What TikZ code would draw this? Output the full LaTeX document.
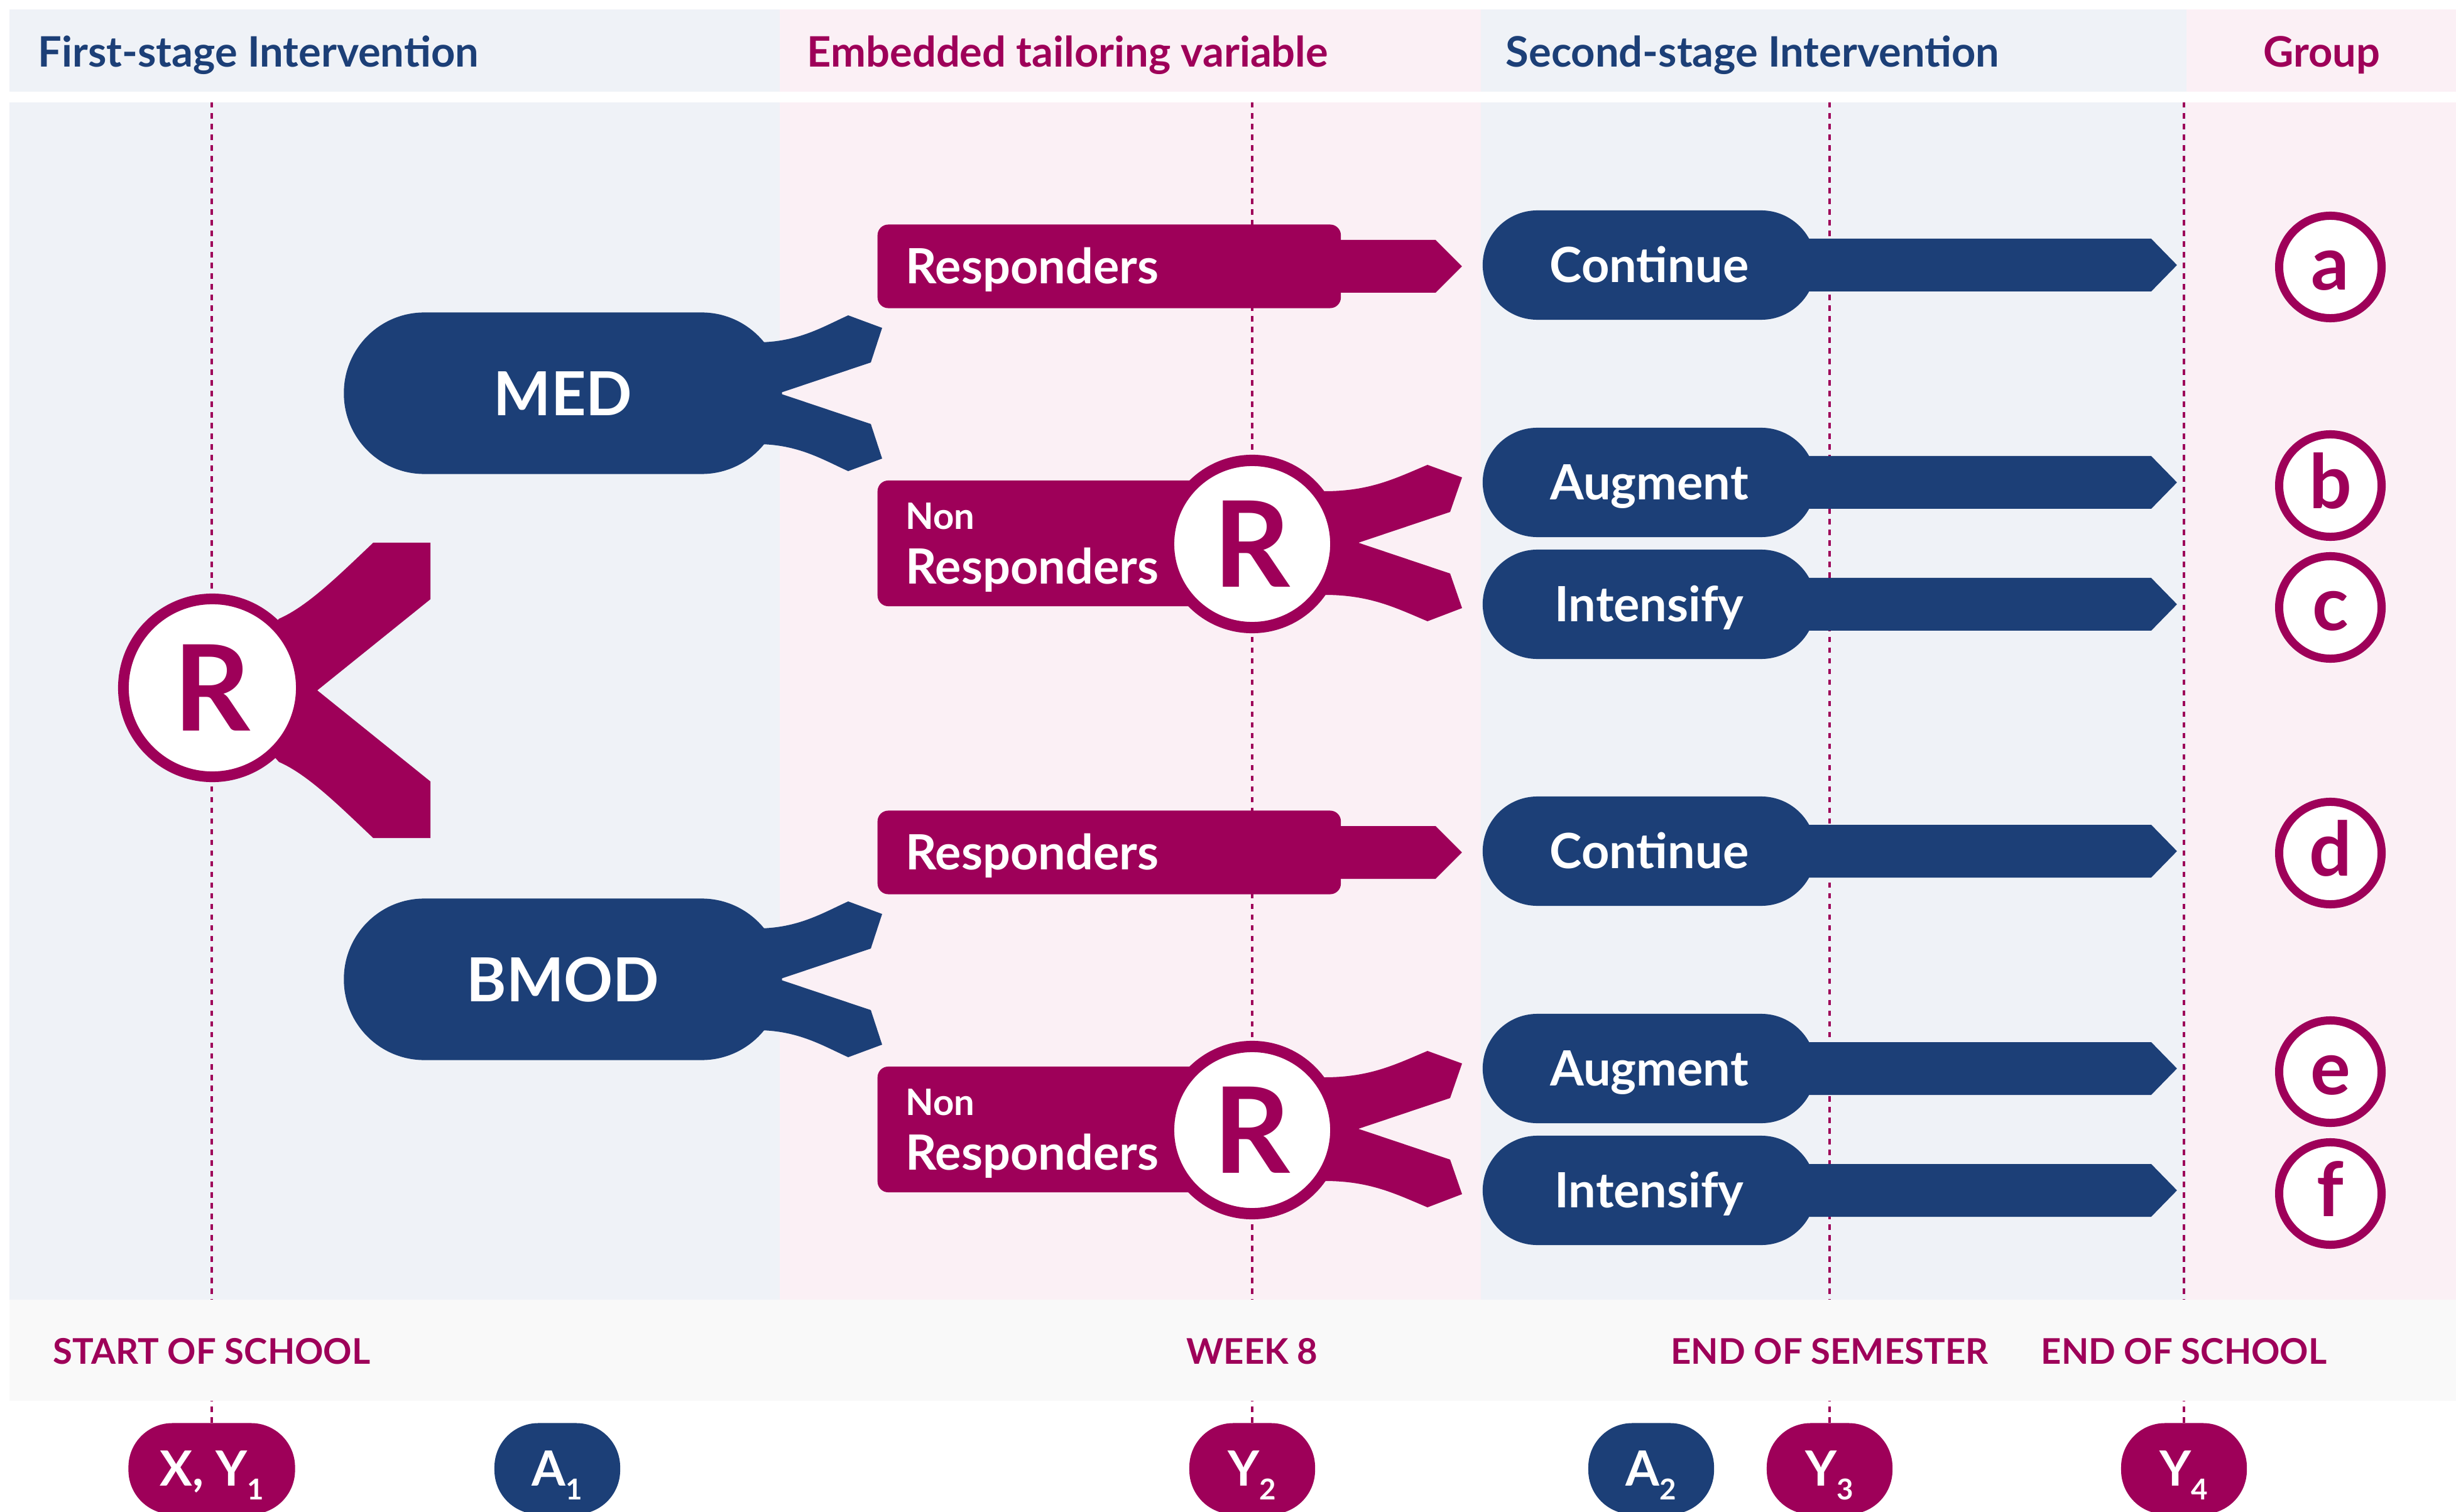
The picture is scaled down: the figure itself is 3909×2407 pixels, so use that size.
\documentclass[tikz,border=0pt]{standalone}
\usepackage{fontspec}
\setmainfont{Lato}
\definecolor{navy}{HTML}{1C3F77}
\definecolor{mag}{HTML}{9E0059}
\definecolor{bgblue}{HTML}{EFF2F7}
\definecolor{bgpink}{HTML}{FBF0F5}
\definecolor{bggray}{HTML}{F9F9F9}
\newcommand\fsz[1]{\fontsize{#1}{#1}\selectfont}
\newcommand\lowsub[1]{\raisebox{-0.22cm}{\fsz{13}#1}}
\tikzset{
    tline/.style={mag, line width=0.04cm, dash pattern=on 0.085cm off 0.085cm},
    coltext/.style={anchor=base west, inner sep=0pt, font=\fsz{19}\bfseries},
    trtbody/.style={rectangle, fill=navy, text=white, rounded corners=1.28cm, minimum width=6.97cm,
        minimum height=2.57cm, font=\fsz{27.5}\bfseries, text height=0.71cm, text depth=0pt},
    stagebox/.style={rectangle, fill=navy, text=white, rounded corners=0.87cm, minimum width=5.3cm,
        minimum height=1.74cm, font=\fsz{22}\bfseries, text height=0.55cm, text depth=0pt, inner sep=0pt},
    respbox/.style={rectangle, fill=mag, text=white, rounded corners=0.17cm, anchor=west,
        inner xsep=0.45cm, inner ysep=0pt, align=left, font=\fontsize{22}{24.5}\selectfont\bfseries},
    rcirc/.style={circle, fill=white, draw=mag, text=mag, font=\fsz{54}\bfseries,
        text height=1.37cm, text depth=0pt, inner sep=0pt},
    grpcirc/.style={circle, fill=white, draw=mag, line width=0.13cm, minimum size=1.63cm, text=mag,
        font=\fsz{34}\bfseries, text height=0.72cm, text depth=0pt, inner sep=0pt},
    timetext/.style={anchor=base, inner sep=0pt, text=mag, font=\fsz{16}\bfseries},
    ovalm/.style={rectangle, rounded corners=0.7cm, minimum height=1.45cm, minimum width=2cm, text=white,
        font=\fsz{22}\bfseries, text height=0.54cm, text depth=0pt, inner sep=0pt},
}
\begin{document}
\begin{tikzpicture}[x=0.01cm, y=-0.01cm]
\useasboundingbox (0,0) rectangle (3909,2407);
\fill[white] (0,0) rectangle (3909,2407);

% column bands
\foreach \ya/\yb in {15/146, 163/2069}{
    \fill[bgblue] (15,\ya) rectangle (1241,\yb);
    \fill[bgpink] (1241,\ya) rectangle (2357,\yb);
    \fill[bgblue] (2357,\ya) rectangle (3480,\yb);
    \fill[bgpink] (3480,\ya) rectangle (3909,\yb);
}
\fill[bggray] (15,2069) rectangle (3909,2230);

\node[coltext, text=navy] (h1) at (60,107) {First-stage Intervention};
\node[coltext, text=mag] (h2) at (1284,107) {Embedded tailoring variable};
\node[coltext, text=navy] (h3) at (2396,107) {Second-stage Intervention};
\node[coltext, text=mag, anchor=base] (h4) at (3695,107) {Group};

\foreach \x in {337,1993,2912,3476}
    \draw[tline] (\x,163) -- (\x,2069);

% time points
\node[timetext] (tstart) at (337,2171) {START OF SCHOOL};
\node[timetext] (tweek) at (1993,2171) {WEEK 8};
\node[timetext] (tsem) at (2912,2171) {END OF SEMESTER};
\node[timetext] (tend) at (3476,2171) {END OF SCHOOL};

\node[ovalm, fill=mag, minimum width=2.65cm] (xy1) at (337,2338) {X, Y\lowsub{1}};
\node[ovalm, fill=navy] (a1) at (887,2338) {A\lowsub{1}};
\node[ovalm, fill=mag] (y2) at (1993,2338) {Y\lowsub{2}};
\node[ovalm, fill=navy] (a2) at (2628,2338) {A\lowsub{2}};
\node[ovalm, fill=mag] (y3) at (2912,2338) {Y\lowsub{3}};
\node[ovalm, fill=mag] (y4) at (3476,2338) {Y\lowsub{4}};
\foreach \n in {xy1,y2,y3,y4}
    \draw[tline] (\n.north) -- (\n.north |- 0,2230);

% first randomisation
\coordinate (rc0) at (338,1095);
\fill[mag] (rc0) -- (444,985) .. controls (490,965) and (540,915) .. (594,864) -- (685,864) -- (685,954)
    -- (505,1099) -- (685,1244) -- (685,1334) -- (594,1334) .. controls (540,1283) and (490,1233) .. (444,1213) -- cycle;
\node[rcirc, minimum size=2.83cm, line width=0.17cm] (rand) at (rc0) {R};

\foreach \g/\dy/\trt/\la/\lb/\lc in {1/0/MED/a/b/c, 2/933/BMOD/d/e/f}{
\begin{scope}[shift={(0,\dy)}]
    \coordinate (tc\g) at (1117,626);
    \fill[navy] (tc\g) -- (1205,545) .. controls (1270,545) and (1310,520) .. (1350,502) -- (1404,522)
        -- (1386,577) -- (1240,626) -- (1386,675) -- (1404,730) -- (1350,750)
        .. controls (1310,732) and (1270,707) .. (1205,707) -- cycle;
    \node[trtbody] (trt\g) at (896,626) {\trt};

    \node[respbox, text width=6.47cm, minimum height=1.33cm, text height=0.55cm, text depth=0pt] (resp\g) at (1396,424) {Responders};
    \fill[mag] (resp\g.east) ++(-20,-42) -- ++(170,0) -- ++(42,42) -- ++(-42,42) -- ++(-170,0) -- cycle;

    \node[respbox, text width=5.06cm, minimum height=2.0cm, text height=0.42cm, text depth=0.86cm] (nonr\g) at (1396,865) {{\fsz{16.5}Non}\\Responders};
    \coordinate (rc\g) at (1993,866);
    \fill[mag] (rc\g) -- (2108,782) .. controls (2180,782) and (2220,762) .. (2272,740) -- (2327,760) -- (2308,815)
        -- (2162,864) -- (2308,913) -- (2327,968) -- (2272,989) .. controls (2220,967) and (2180,947) .. (2108,947) -- cycle;
    \node[rcirc, minimum size=2.66cm, line width=0.18cm] (rr\g) at (rc\g) {R};

    \node[stagebox] (cont\g) at (2625,422) {Continue};
    \node[stagebox] (aug\g) at (2625,768) {Augment};
    \node[stagebox] (int\g) at (2625,962) {Intensify};
    \foreach \s in {cont,aug,int}
        \fill[navy] (\s\g.east) ++(-90,-42) -- ++(623,0) -- ++(41,42) -- ++(-41,42) -- ++(-623,0) -- cycle;

    \node[grpcirc] (g\la) at (3709,425) {\la};
    \node[grpcirc] (g\lb) at (3709,773) {\lb};
    \node[grpcirc] (g\lc) at (3709,967) {\lc};
\end{scope}
}
\end{tikzpicture}
\end{document}
